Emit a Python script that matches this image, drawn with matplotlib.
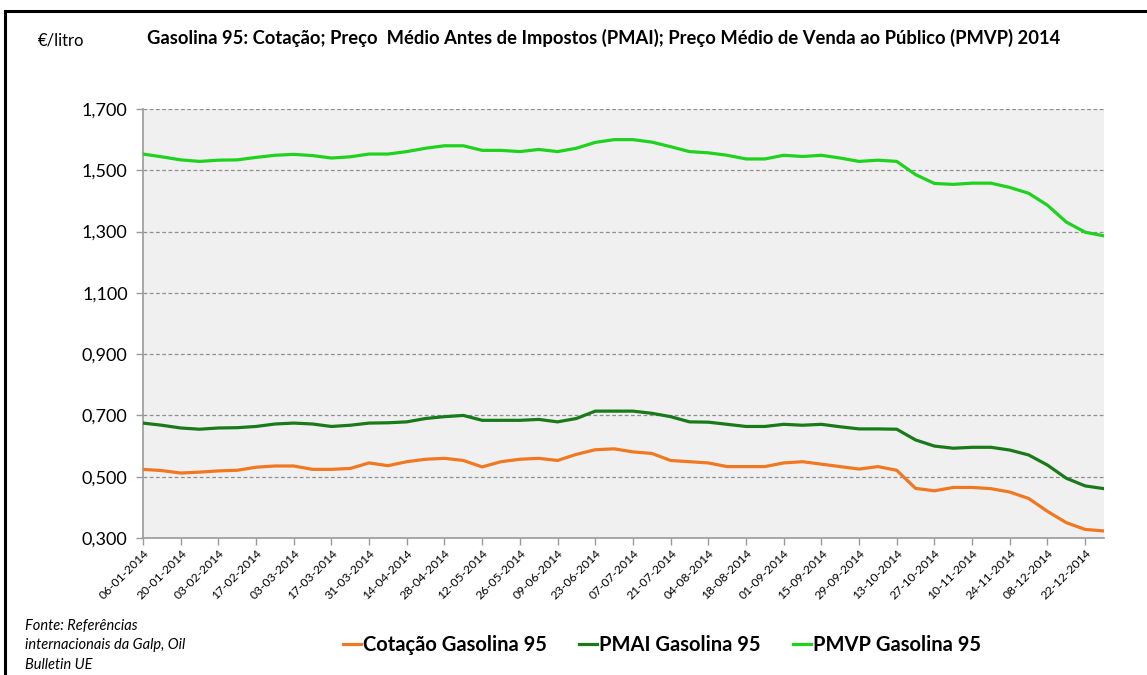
import matplotlib
matplotlib.use("Agg")
import matplotlib.pyplot as plt
import numpy as np
import datetime as dt
from matplotlib.patches import Rectangle
from matplotlib.lines import Line2D

# ---- data ----
start = dt.date(2014, 1, 6)
weeks = [start + dt.timedelta(days=7 * i) for i in range(52)]
categories = [d.strftime("%d-%m-%Y") for d in weeks]

cotacao = [0.524, 0.520, 0.512, 0.515, 0.519, 0.521, 0.531, 0.535, 0.535, 0.524,
           0.524, 0.527, 0.545, 0.536, 0.549, 0.557, 0.560, 0.553, 0.532, 0.549,
           0.557, 0.560, 0.553, 0.573, 0.588, 0.591, 0.581, 0.576, 0.553, 0.549,
           0.545, 0.533, 0.533, 0.533, 0.545, 0.549, 0.541, 0.533, 0.525, 0.533,
           0.521, 0.462, 0.454, 0.465, 0.465, 0.461, 0.450, 0.429, 0.387, 0.350,
           0.328, 0.323]
pmai = [0.675, 0.668, 0.659, 0.655, 0.659, 0.660, 0.664, 0.672, 0.675, 0.672,
        0.664, 0.668, 0.675, 0.676, 0.679, 0.690, 0.696, 0.700, 0.684, 0.684,
        0.684, 0.687, 0.679, 0.690, 0.714, 0.714, 0.714, 0.707, 0.696, 0.679,
        0.678, 0.671, 0.664, 0.664, 0.671, 0.668, 0.671, 0.663, 0.656, 0.656,
        0.655, 0.620, 0.600, 0.593, 0.596, 0.596, 0.587, 0.571, 0.538, 0.495,
        0.470, 0.461]
pmvp = [1.553, 1.544, 1.534, 1.529, 1.533, 1.534, 1.542, 1.549, 1.552, 1.548,
        1.540, 1.544, 1.553, 1.553, 1.561, 1.572, 1.580, 1.580, 1.565, 1.565,
        1.561, 1.568, 1.561, 1.572, 1.591, 1.600, 1.600, 1.592, 1.577, 1.561,
        1.557, 1.549, 1.537, 1.537, 1.549, 1.545, 1.549, 1.540, 1.529, 1.533,
        1.529, 1.486, 1.457, 1.454, 1.458, 1.458, 1.444, 1.425, 1.386, 1.331,
        1.298, 1.286]
series_names = ["Cotação Gasolina 95", "PMAI Gasolina 95", "PMVP Gasolina 95"]
y_ticks = [0.3, 0.5, 0.7, 0.9, 1.1, 1.3, 1.5, 1.7]

colors = ["#F07820", "#187A18", "#1ED21E"]

plt.rcParams['font.family'] = ['Lato', 'DejaVu Sans']

W, H = 1147, 675
fig = plt.figure(figsize=(W / 100, H / 100), dpi=100)
fig.patch.set_facecolor("white")

# outer frame
fig.patches.append(Rectangle((5 / W, -0.1), 1.2, 1 - 11 / H + 0.1, transform=fig.transFigure,
                             fill=False, edgecolor="black", linewidth=2.2, zorder=0))

ax = fig.add_axes([143 / W, 1 - 538 / H, (1104 - 143) / W, (538 - 109) / H])
ax.set_facecolor("#F0F0F0")

x = np.arange(len(categories))
for vals, c in zip([cotacao, pmai, pmvp], colors):
    ax.plot(x, vals, color=c, linewidth=2.3, solid_capstyle="round", zorder=3)

ax.set_xlim(0, len(categories) - 1)
ax.set_ylim(0.3, 1.7)
ax.set_yticks(y_ticks)
ax.set_yticklabels([f"{v:.3f}".replace(".", ",") for v in y_ticks], fontsize=13)
ax.yaxis.grid(True, linestyle=(0, (3, 2)), color="#909090", linewidth=0.9)
ax.set_axisbelow(True)

ax.set_xticks(x[::2])
ax.set_xticklabels(categories[::2], rotation=45, ha="right", rotation_mode="anchor",
                   fontsize=8.7)
for sp in ["top", "right"]:
    ax.spines[sp].set_visible(False)
for sp in ["left", "bottom"]:
    ax.spines[sp].set_color("#9A9A9A")
    ax.spines[sp].set_linewidth(1.2)
ax.tick_params(axis="both", direction="out", length=5, color="#9A9A9A", width=1)
ax.tick_params(axis="x", pad=2)
ax.tick_params(axis="y", pad=6)

# title and unit label
fig.text(147 / W, 1 - 38 / H, "Gasolina 95: Cotação; Preço  Médio Antes de Impostos (PMAI); Preço Médio de Venda ao Público (PMVP) 2014",
         fontsize=13.2, fontweight="bold", va="center", ha="left")
fig.text(38 / W, 1 - 40 / H, "€/litro", fontsize=12, va="center", ha="left")

# source
fig.text(25 / W, 1 - 619 / H, "Fonte: Referências\ninternacionais da Galp, Oil\nBulletin UE",
         fontsize=10.5, style="italic", va="top", ha="left", linespacing=1.5)

# legend
handles = [Line2D([0], [0], color=c, linewidth=2.3) for c in colors]
fig.legend(handles, series_names, loc="center", bbox_to_anchor=(662 / W, 1 - 645 / H),
           ncol=3, frameon=False, prop={"weight": "bold", "size": 14.5},
           handlelength=0.9, handletextpad=0.1, columnspacing=1.6)

fig.savefig("out.png", dpi=100, facecolor="white")
